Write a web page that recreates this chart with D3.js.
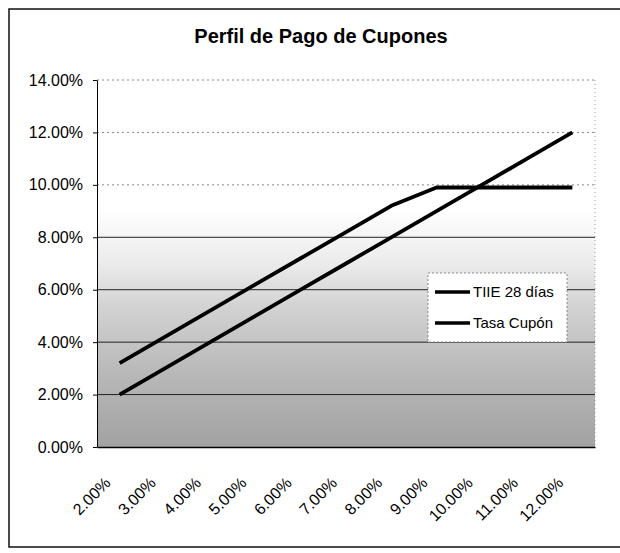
<!DOCTYPE html>
<html>
<head>
<meta charset="utf-8">
<script src="https://cdn.jsdelivr.net/npm/d3@7"></script>
<style>
  body { margin: 0; background: #fff; }
  svg { display: block; font-family: "Liberation Sans", Arial, sans-serif; }
</style>
</head>
<body>
<script>
// Chart values
const categories = ["2.00%", "3.00%", "4.00%", "5.00%", "6.00%", "7.00%", "8.00%", "9.00%", "10.00%", "11.00%", "12.00%"];
const tiieValues = [0.02, 0.03, 0.04, 0.05, 0.06, 0.07, 0.08, 0.09, 0.10, 0.11, 0.12];
const cuponValues = [0.032, 0.042, 0.052, 0.062, 0.072, 0.082, 0.092, 0.099, 0.099, 0.099, 0.099];
const yTicks = [0, 0.02, 0.04, 0.06, 0.08, 0.10, 0.12, 0.14];
const seriesNames = ["TIIE 28 días", "Tasa Cupón"];

const w = 620;
const h = 553;
const plot = { left: 97, right: 595, top: 80, bottom: 447 };

const svg = d3.select("body")
  .append("svg")
  .attr("width", w)
  .attr("height", h);

// outer chart border
svg.append("rect")
  .attr("x", 9)
  .attr("y", 9)
  .attr("width", 625)
  .attr("height", 538)
  .attr("fill", "none")
  .attr("stroke", "#111")
  .attr("stroke-width", 1.5);

// title
svg.append("text")
  .attr("x", 321)
  .attr("y", 43)
  .attr("text-anchor", "middle")
  .attr("font-size", "20px")
  .attr("font-weight", "bold")
  .text("Perfil de Pago de Cupones");

// scales
const x = d3.scalePoint()
  .domain(categories)
  .range([plot.left, plot.right])
  .padding(0.5);

const y = d3.scaleLinear()
  .domain([0, 0.14])
  .range([plot.bottom, plot.top]);

// plot area background: white on top, gray towards the bottom
const grad = svg.append("defs")
  .append("linearGradient")
  .attr("id", "plotBg")
  .attr("x1", 0).attr("y1", 0)
  .attr("x2", 0).attr("y2", 1);
[[0, "#ffffff"], [0.35, "#ffffff"], [0.5, "#ebebeb"], [0.62, "#d2d2d2"], [0.8, "#b8b8b8"], [1, "#a2a2a2"]]
  .forEach(s => grad.append("stop").attr("offset", s[0]).attr("stop-color", s[1]));

svg.append("rect")
  .attr("x", plot.left)
  .attr("y", plot.top)
  .attr("width", plot.right - plot.left)
  .attr("height", plot.bottom - plot.top)
  .attr("fill", "url(#plotBg)");

// gridlines
svg.append("g")
  .selectAll("line")
  .data(yTicks.filter(d => d > 0))
  .enter()
  .append("line")
  .attr("x1", plot.left)
  .attr("x2", plot.right)
  .attr("y1", d => y(d))
  .attr("y2", d => y(d))
  .attr("stroke", d => d >= 0.1 ? "#888" : "#222")
  .attr("stroke-width", 1)
  .attr("stroke-dasharray", d => d >= 0.1 ? "2,3" : null);

// right border of plot area (dotted)
svg.append("line")
  .attr("x1", plot.right).attr("x2", plot.right)
  .attr("y1", plot.top).attr("y2", plot.bottom)
  .attr("stroke", "#999")
  .attr("stroke-dasharray", "1,3");

// y axis
const yAxis = svg.append("g")
  .attr("transform", `translate(${plot.left},0)`)
  .call(d3.axisLeft(y)
    .tickValues(yTicks)
    .tickFormat(d3.format(".2%"))
    .tickSize(4)
    .tickSizeOuter(0)
    .tickPadding(10));
yAxis.select(".domain").attr("stroke", "#000");
yAxis.selectAll("text")
  .attr("font-size", "16px")
  .attr("font-family", "Liberation Sans, Arial, sans-serif")
  .attr("fill", "#000");

// x axis
const xAxis = svg.append("g")
  .attr("transform", `translate(0,${plot.bottom})`)
  .call(d3.axisBottom(x).tickSize(0).tickSizeOuter(0).tickFormat(""));
xAxis.select(".domain").attr("stroke", "#000").attr("stroke-width", 1.5);

svg.append("g")
  .selectAll("text")
  .data(categories)
  .enter()
  .append("text")
  .attr("transform", d => `translate(${x(d) - 8},${plot.bottom + 37}) rotate(-45)`)
  .attr("text-anchor", "end")
  .attr("font-size", "16px")
  .text(d => d);

// lines
const line = d3.line()
  .x((d, i) => x(categories[i]))
  .y(d => y(d));

[tiieValues, cuponValues].forEach(vals => {
  svg.append("path")
    .datum(vals)
    .attr("d", line)
    .attr("fill", "none")
    .attr("stroke", "#000")
    .attr("stroke-width", 3.8)
    .attr("stroke-linejoin", "round");
});

// legend
const legend = svg.append("g")
  .attr("transform", "translate(428,273)");

legend.append("rect")
  .attr("width", 139)
  .attr("height", 69)
  .attr("fill", "#fff")
  .attr("stroke", "#888")
  .attr("stroke-dasharray", "2,2");

seriesNames.forEach((name, i) => {
  legend.append("line")
    .attr("x1", 7)
    .attr("x2", 42)
    .attr("y1", 19 + i * 31)
    .attr("y2", 19 + i * 31)
    .attr("stroke", "#000")
    .attr("stroke-width", 3.5);
  legend.append("text")
    .attr("x", 45)
    .attr("y", 24 + i * 31)
    .attr("font-size", "15px")
    .text(name);
});
</script>
</body>
</html>
